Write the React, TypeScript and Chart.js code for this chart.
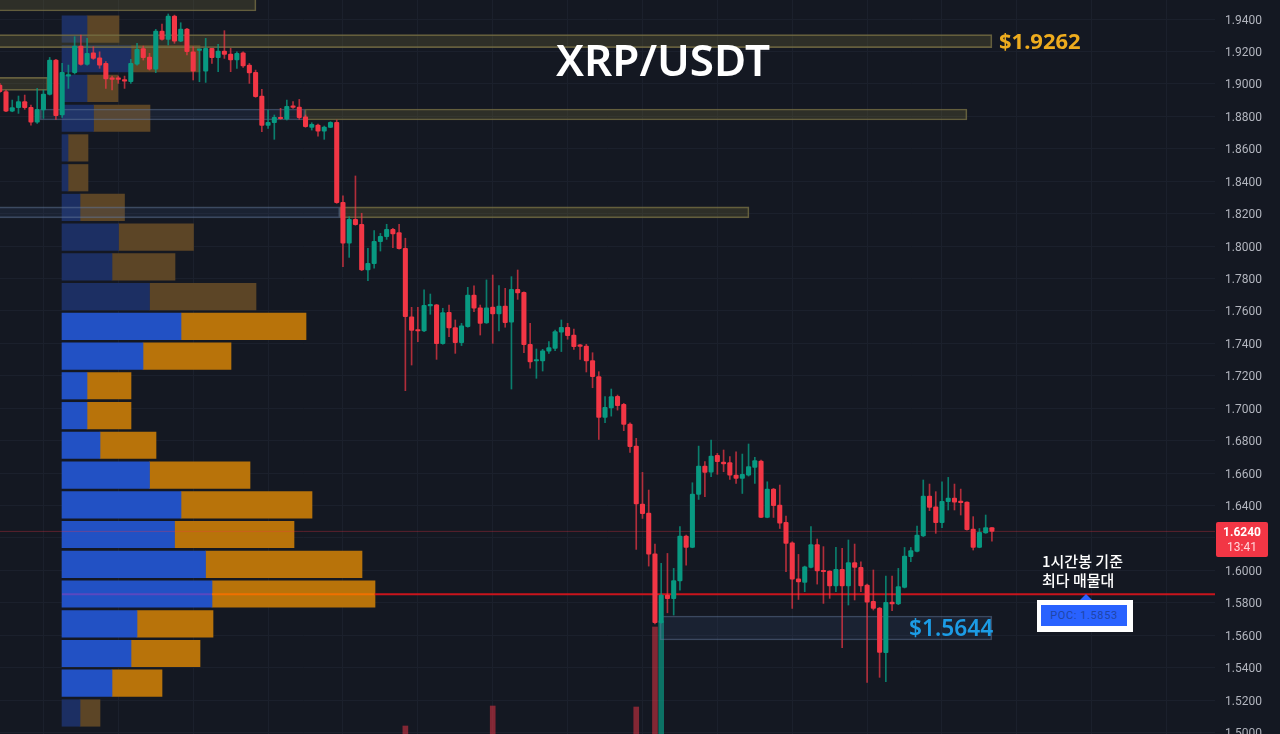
import React, { useEffect, useRef } from "react";
import { Chart, registerables } from "chart.js";

Chart.register(...registerables);

// Hourly XRP/USDT candles, oldest first
const opens = [
  1.8993,1.8952,1.8832,1.8853,1.8890,1.8855,1.8763,1.8839,1.8935,1.9147,
  1.8808,1.9048,1.9069,1.9233,1.9120,1.9192,1.9161,1.9126,1.9034,1.9034,
  1.9024,1.9013,1.9122,1.9217,1.9165,1.9091,1.9326,1.9274,1.9418,1.9264,
  1.9338,1.9198,1.9207,1.9079,1.9219,1.9161,1.9202,1.9184,1.9147,1.9192,
  1.9116,1.9071,1.8925,1.8744,1.8760,1.8791,1.8783,1.8859,1.8857,1.8797,
  1.8732,1.8746,1.8709,1.8732,1.8763,1.8270,1.8017,1.8165,1.8134,1.7852,
  1.7891,1.8027,1.8058,1.8103,1.8083,1.7986,1.7564,1.7482,1.7476,1.7630,
  1.7638,1.7398,1.7591,1.7497,1.7404,1.7503,1.7698,1.7618,1.7525,1.7624,
  1.7581,1.7630,1.7531,1.7733,1.7714,1.7394,1.7291,1.7291,1.7351,1.7369,
  1.7468,1.7499,1.7451,1.7387,1.7383,1.7293,1.7194,1.6943,1.7001,1.7073,
  1.7023,1.6902,1.6766,1.6409,1.6353,1.6102,1.5677,1.5847,1.5825,1.5934,
  1.6211,1.6141,1.6468,1.6643,1.6606,1.6709,1.6668,1.6664,1.6587,1.6567,
  1.6587,1.6635,1.6674,1.6326,1.6501,1.6403,1.6296,1.6170,1.5948,1.5926,
  1.6018,1.6158,1.5999,1.5995,1.5903,1.6006,1.5903,1.6047,1.6018,1.5909,
  1.5808,1.5767,1.5492,1.5804,1.5792,1.5895,1.6084,1.6117,1.6212,1.6458,
  1.6392,1.6294,1.6423,1.6446,1.6421,1.6421,1.6254,1.6141,1.6230,1.6263,
];
const highs = [
  1.9003,1.8962,1.8900,1.8925,1.8931,1.8869,1.8972,1.8962,1.9163,1.9151,
  1.9126,1.9116,1.9291,1.9301,1.9281,1.9229,1.9198,1.9137,1.9048,1.9048,
  1.9048,1.9151,1.9250,1.9233,1.9188,1.9336,1.9369,1.9431,1.9424,1.9377,
  1.9342,1.9229,1.9213,1.9281,1.9219,1.9244,1.9328,1.9219,1.9198,1.9198,
  1.9126,1.9085,1.8966,1.8839,1.8808,1.8849,1.8900,1.8890,1.8904,1.8808,
  1.8760,1.8752,1.8740,1.8767,1.8777,1.8309,1.8181,1.8432,1.8202,1.7986,
  1.8095,1.8078,1.8134,1.8109,1.8134,1.8048,1.7622,1.7622,1.7729,1.7704,
  1.7640,1.7616,1.7636,1.7544,1.7523,1.7745,1.7754,1.7636,1.7791,1.7821,
  1.7756,1.7739,1.7811,1.7852,1.7718,1.7523,1.7365,1.7363,1.7410,1.7482,
  1.7544,1.7523,1.7488,1.7394,1.7394,1.7342,1.7225,1.7071,1.7118,1.7081,
  1.7030,1.6910,1.6814,1.6604,1.6495,1.6162,1.6043,1.6104,1.6012,1.6269,
  1.6217,1.6540,1.6766,1.6670,1.6803,1.6721,1.6742,1.6701,1.6731,1.6717,
  1.6779,1.6697,1.6680,1.6546,1.6505,1.6526,1.6335,1.6176,1.6098,1.6026,
  1.6269,1.6193,1.6146,1.5997,1.6141,1.6135,1.6187,1.6162,1.6053,1.5915,
  1.6002,1.5771,1.5965,1.5965,1.6012,1.6141,1.6141,1.6273,1.6557,1.6532,
  1.6485,1.6546,1.6573,1.6532,1.6501,1.6423,1.6331,1.6258,1.6341,1.6263,
];
const lows = [
  1.8946,1.8828,1.8828,1.8818,1.8843,1.8746,1.8756,1.8787,1.8931,1.8781,
  1.8793,1.8972,1.9061,1.9116,1.9116,1.9151,1.9096,1.8972,1.8962,1.9003,
  1.8972,1.9003,1.9116,1.9147,1.9085,1.9069,1.9270,1.9239,1.9250,1.9260,
  1.9178,1.9024,1.9013,1.9009,1.9126,1.9075,1.9157,1.9075,1.9096,1.9102,
  1.9003,1.8917,1.8705,1.8725,1.8658,1.8781,1.8777,1.8849,1.8781,1.8732,
  1.8715,1.8678,1.8658,1.8730,1.8263,1.7873,1.7930,1.8128,1.7848,1.7787,
  1.7863,1.7969,1.8041,1.7990,1.7980,1.7108,1.7266,1.7410,1.7472,1.7579,
  1.7301,1.7394,1.7441,1.7338,1.7386,1.7499,1.7595,1.7451,1.7523,1.7400,
  1.7476,1.7499,1.7118,1.7671,1.7342,1.7246,1.7184,1.7229,1.7338,1.7355,
  1.7349,1.7425,1.7363,1.7301,1.7223,1.7126,1.6807,1.6910,1.6951,1.6988,
  1.6861,1.6727,1.6129,1.6320,1.6026,1.5669,1.5673,1.5738,1.5724,1.5878,
  1.6032,1.6139,1.6437,1.6454,1.6577,1.6592,1.6608,1.6561,1.6536,1.6474,
  1.6581,1.6536,1.6324,1.6324,1.6326,1.6258,1.5991,1.5765,1.5820,1.5868,
  1.6014,1.5915,1.5796,1.5827,1.5868,1.5523,1.5786,1.5817,1.5868,1.5309,
  1.5755,1.5340,1.5313,1.5751,1.5788,1.5891,1.6053,1.6113,1.6208,1.6368,
  1.6228,1.6263,1.6372,1.6372,1.6341,1.6248,1.6125,1.6139,1.6228,1.6180,
];
const closes = [
  1.8952,1.8832,1.8853,1.8890,1.8853,1.8763,1.8843,1.8937,1.9147,1.8804,
  1.9071,1.9054,1.9233,1.9120,1.9188,1.9157,1.9116,1.9030,1.9028,1.9028,
  1.9017,1.9126,1.9213,1.9161,1.9091,1.9326,1.9274,1.9418,1.9264,1.9338,
  1.9198,1.9079,1.9213,1.9219,1.9161,1.9202,1.9182,1.9147,1.9188,1.9110,
  1.9067,1.8921,1.8744,1.8763,1.8793,1.8785,1.8861,1.8855,1.8791,1.8736,
  1.8750,1.8709,1.8734,1.8763,1.8267,1.8017,1.8165,1.8132,1.7852,1.7893,
  1.8029,1.8060,1.8103,1.8074,1.7984,1.7564,1.7480,1.7476,1.7634,1.7640,
  1.7398,1.7589,1.7495,1.7404,1.7507,1.7698,1.7616,1.7523,1.7618,1.7581,
  1.7630,1.7527,1.7733,1.7710,1.7392,1.7285,1.7297,1.7353,1.7373,1.7472,
  1.7499,1.7447,1.7379,1.7381,1.7291,1.7194,1.6943,1.7005,1.7071,1.7015,
  1.6900,1.6762,1.6409,1.6349,1.6100,1.5677,1.5847,1.5825,1.5936,1.6211,
  1.6141,1.6470,1.6643,1.6604,1.6705,1.6670,1.6656,1.6587,1.6567,1.6592,
  1.6639,1.6676,1.6326,1.6501,1.6398,1.6291,1.6166,1.5946,1.5928,1.6022,
  1.6158,1.5997,1.5991,1.5903,1.6006,1.5903,1.6047,1.6018,1.5903,1.5804,
  1.5765,1.5494,1.5802,1.5792,1.5899,1.6088,1.6121,1.6218,1.6458,1.6388,
  1.6294,1.6425,1.6446,1.6421,1.6417,1.6250,1.6141,1.6234,1.6263,1.6240,
];

// Volume profile, one row per price level
const profilePrices = [
  1.9338,1.9155,1.8972,1.8788,1.8605,1.8421,1.8238,1.8055,1.7871,1.7688,1.7504,1.7321,
  1.7138,1.6954,1.6771,1.6587,1.6404,1.6221,1.6037,1.5854,1.5670,1.5487,1.5304,1.5120,
];
const profileBuy = [25,69,25,31.5,6,6,18,56.5,50,87.5,119,81,25,25,38,87.5,119,112.5,143.5,150,75,69,50,18];
const profileSell = [32,69,31,56.5,20,20,44.5,75,63,106.5,125,88,44,44,56,100.5,131,119.5,156.5,163,76,69,50,20];
const profileDimmed = [1,1,1,1,1,1,1,1,1,1,0,0,0,0,0,0,0,0,0,0,0,0,0,1];

// Price zones: first candle, last candle, mid price, kind, band size
const zoneStart = [-5, -5, -5, 5.5, 47.9, -5, 53.5, 104.8];
const zoneEnd = [40.06, 158, 6.7, 47.9, 154, 53.5, 119.07, 158];
const zoneMid = [1.9517, 1.9264, 1.9000, 1.8811, 1.8811, 1.8207, 1.8207, 1.5644];
const zoneKind = ["y", "y", "y", "b", "y", "b", "y", "b"];
const zoneBand = [22, 13, 13, 11, 11, 11, 11, 24];

// Exchange volume bars visible at the bottom edge
const volumeIndex = [64, 78, 101, 104, 105];
const volumeValue = [8, 28, 27, 107, 113];
const volumeColor = ["rgba(242,54,69,.5)", "rgba(242,54,69,.5)", "rgba(242,54,69,.5)", "rgba(242,54,69,.5)", "rgba(8,153,129,.7)"];

const gridCandles = [6,18,30,42,54,66,78,90,102,114,126,138,150,162,174,186];
const pocPrice = 1.5853;
const lastPrice = 1.624;
const pocSegments = [8.97, 33, 59.1, 193.75];

const X_MIN = -0.9615;
const X_MAX = 193.75;
const Y_MIN = 1.49905;
const Y_MAX = 1.95172;
const RED = "#f23645";
const GREEN = "#089981";
const BG = "#141822";
const GRID = "#1b202c";

const label = (s: React.CSSProperties, text: React.ReactNode) => (
  <div style={{ position: "absolute", whiteSpace: "nowrap", ...s }}>{text}</div>
);

export default function App() {
  const ref = useRef<HTMLCanvasElement | null>(null);

  useEffect(() => {
    document.body.style.margin = "0";
    document.body.style.background = BG;
    const idx = opens.map((_, i) => i - 1);
    const colors = opens.map((o, i) => (closes[i] >= o ? GREEN : RED));
    const wickColors = opens.map((o, i) => (closes[i] >= o ? "rgba(8,153,129,.8)" : "rgba(242,54,69,.7)"));

    const zones = zoneStart.map((s, i) => ({
      type: "bar" as const,
      indexAxis: "y" as const,
      xAxisID: "x",
      yAxisID: "y",
      grouped: false,
      order: 4,
      barThickness: zoneBand[i],
      borderWidth: 1,
      borderSkipped: false,
      borderColor: zoneKind[i] === "y" ? "rgba(120,113,70,.8)" : "rgba(100,122,155,.5)",
      backgroundColor: zoneKind[i] === "y" ? "rgba(110,102,55,.3)" : "rgba(60,90,135,.16)",
      data: [{ x: [s, zoneEnd[i]], y: zoneMid[i] }],
    }));

    const chart = new Chart(ref.current as HTMLCanvasElement, {
      type: "bar",
      data: {
        datasets: [
          {
            type: "bar",
            xAxisID: "x",
            yAxisID: "yv",
            grouped: false,
            order: 6,
            barThickness: 5,
            backgroundColor: volumeColor,
            data: volumeIndex.map((x, i) => ({ x, y: volumeValue[i] })),
          },
          {
            type: "bar",
            indexAxis: "y",
            xAxisID: "xv",
            yAxisID: "y",
            grouped: false,
            order: 5,
            barThickness: 26.5,
            backgroundColor: profileDimmed.map((d) => (d ? "#1c2f63" : "#2251c4")),
            data: profilePrices.map((y, i) => ({ x: [0, profileBuy[i]], y })),
          },
          {
            type: "bar",
            indexAxis: "y",
            xAxisID: "xv",
            yAxisID: "y",
            grouped: false,
            order: 5,
            barThickness: 26.5,
            backgroundColor: profileDimmed.map((d) => (d ? "#5c4526" : "#b8730a")),
            data: profilePrices.map((y, i) => ({ x: [profileBuy[i], profileBuy[i] + profileSell[i]], y })),
          },
          ...zones,
          {
            type: "line",
            xAxisID: "x",
            yAxisID: "y",
            order: 3,
            borderColor: "rgba(242,54,69,.32)",
            borderWidth: 1,
            pointRadius: 0,
            data: [{ x: X_MIN, y: lastPrice }, { x: X_MAX, y: lastPrice }],
          },
          {
            type: "line",
            xAxisID: "x",
            yAxisID: "y",
            order: 3,
            borderColor: "#c9141c",
            borderWidth: 2,
            pointRadius: 0,
            segment: {
              borderColor: (c: any) =>
                c.p0DataIndex === 0 ? "#5a48c0" : c.p0DataIndex === 1 ? "#f07000" : "#c9141c",
            },
            data: pocSegments.map((x) => ({ x, y: pocPrice })),
          },
          {
            type: "bar",
            xAxisID: "x",
            yAxisID: "y",
            grouped: false,
            order: 2,
            barThickness: 1,
            backgroundColor: wickColors,
            data: idx.map((x, i) => ({ x, y: [lows[i], highs[i]] })),
          },
          {
            type: "bar",
            xAxisID: "x",
            yAxisID: "y",
            grouped: false,
            order: 1,
            barThickness: 4.4,
            minBarLength: 1.5,
            borderRadius: 1,
            borderSkipped: false,
            backgroundColor: colors,
            data: idx.map((x, i) => ({ x, y: [opens[i], closes[i]] })),
          },
        ] as any,
      },
      options: {
        animation: false,
        responsive: false,
        devicePixelRatio: 1,
        layout: { padding: 0 },
        plugins: { legend: { display: false }, tooltip: { enabled: false } },
        scales: {
          x: {
            type: "linear",
            position: "bottom",
            min: X_MIN,
            max: X_MAX,
            offset: false,
            border: { display: false },
            grid: { color: GRID, drawTicks: false, offset: false },
            ticks: { display: false },
            afterBuildTicks: (s: any) => {
              s.ticks = gridCandles.map((value) => ({ value }));
            },
            afterFit: (s: any) => {
              s.height = 0;
              s.paddingLeft = 0;
              s.paddingRight = 0;
            },
          },
          xv: { type: "linear", display: false, min: -62, max: 1153, offset: false, grid: { offset: false } },
          yv: { type: "linear", display: false, min: 0, max: 734, offset: false, grid: { offset: false } },
          y: {
            type: "linear",
            position: "right",
            min: Y_MIN,
            max: Y_MAX,
            offset: false,
            border: { display: false },
            grid: { color: GRID, drawTicks: false, offset: false },
            ticks: {
              stepSize: 0.02,
              includeBounds: false,
              autoSkip: false,
              padding: 10,
              color: "#b2b5be",
              font: { family: "Roboto", size: 12, lineHeight: "3px" },
              callback: (v: any) => ["", Number(v).toFixed(4)],
            },
            afterFit: (s: any) => {
              s.width = 65;
              s.paddingTop = 0;
              s.paddingBottom = 0;
            },
          },
        },
      } as any,
    });
    return () => chart.destroy();
  }, []);

  return (
    <div style={{ position: "fixed", left: 0, top: 0, width: 1280, height: 734, overflow: "hidden", background: BG }}>
      <canvas ref={ref} width={1280} height={734} style={{ display: "block", position: "absolute", left: 0, top: 0 }} />
      {label({ left: 556, top: 29, fontFamily: "'Noto Sans'", fontWeight: 600, fontSize: 44, lineHeight: "60px", color: "#fff" }, "XRP/USDT")}
      {label({ left: 999, top: 24, fontFamily: "'Noto Sans'", fontWeight: 700, fontSize: 22, lineHeight: "32px", color: "#eeac1e" }, "$1.9262")}
      {label({ left: 909, top: 612, fontFamily: "'Noto Sans'", fontWeight: 600, fontSize: 22.7, lineHeight: "32px", color: "#1c9ce6" }, "$1.5644")}
      {label({ left: 1216, top: 522, width: 52, height: 35, background: RED, borderRadius: 2 }, "")}
      {label({ left: 1216, width: 52, textAlign: "center", top: 525, fontFamily: "Roboto", fontWeight: 700, fontSize: 12, lineHeight: "15px", color: "#fff" }, "1.6240")}
      {label({ left: 1216, width: 52, textAlign: "center", top: 540, fontFamily: "Roboto", fontSize: 12, lineHeight: "15px", color: "#ffd5d9" }, "13:41")}
      {label({ left: 1042, top: 551, fontFamily: "'Noto Sans CJK KR'", fontWeight: 500, fontSize: 15, lineHeight: "19px", color: "#fff" }, "1시간봉 기준")}
      {label({ left: 1042, top: 570, fontFamily: "'Noto Sans CJK KR'", fontWeight: 500, fontSize: 15, lineHeight: "19px", color: "#fff" }, "최다 매물대")}
      {label({ left: 1079, top: 594, width: 14, height: 7, background: "#2962ff", clipPath: "polygon(50% 0, 100% 100%, 0 100%)" }, "")}
      {label({ left: 1037, top: 600, width: 96, height: 32, background: "#fff" }, "")}
      {label({ left: 1041, top: 605, width: 86, height: 21, background: "#2962ff", textAlign: "center", fontFamily: "Roboto", fontSize: 11, lineHeight: "21px", letterSpacing: 0.6, color: "#1f45a8" }, "POC: 1.5853")}
    </div>
  );
}
